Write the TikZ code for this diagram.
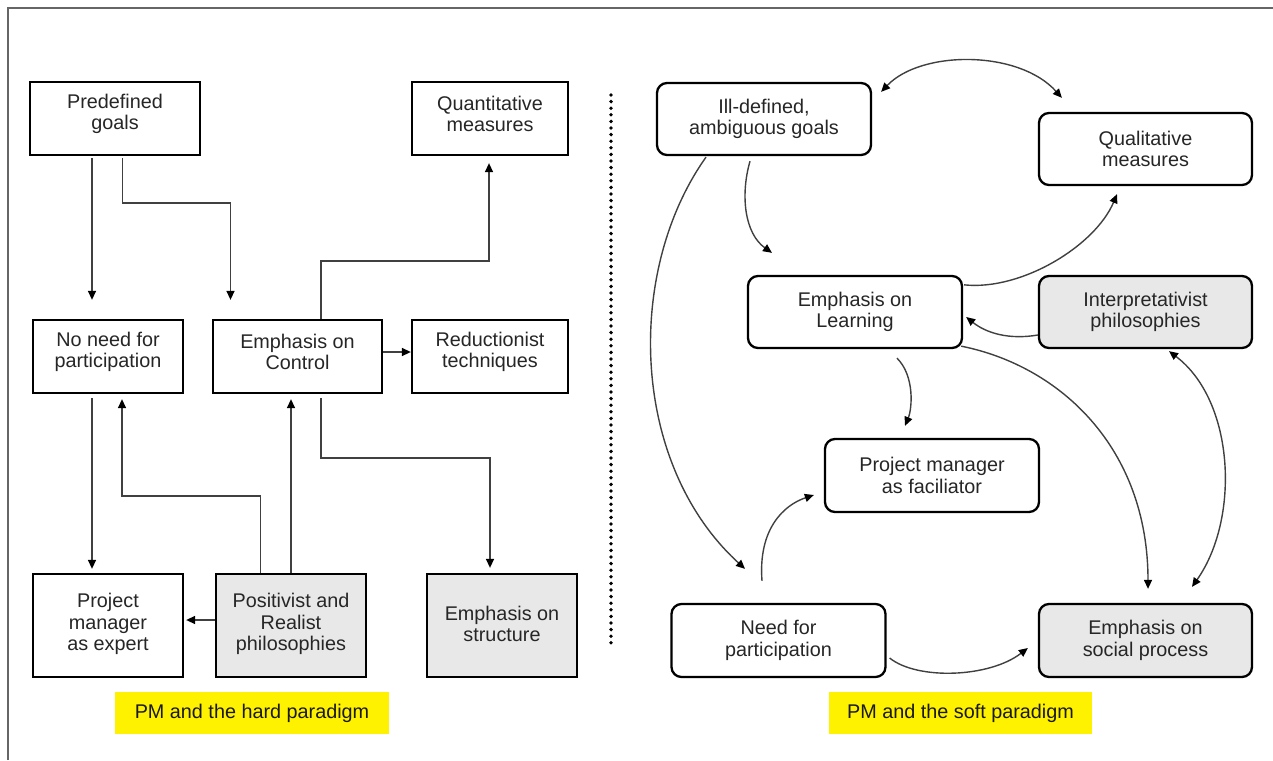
\documentclass[tikz,border=0pt]{standalone}
\usepackage{fontspec}
\setmainfont{Liberation Sans}
\usetikzlibrary{arrows.meta}
\definecolor{boxgray}{HTML}{E8E8E8}
\definecolor{linegray}{HTML}{404040}
\begin{document}
\begin{tikzpicture}[x=1pt,y=-1pt,
  sq/.style={draw=black, line width=2.3pt, inner sep=0pt, fill=white},
  rd/.style={sq, rounded corners=10pt},
  gr/.style={fill=boxgray},
  txt/.style={font=\fontsize{19.8}{21.5}\selectfont, align=center, inner sep=0pt, text=black!85},
  conn/.style={line width=1.4pt, draw=linegray, -{Triangle[length=9pt,width=8pt,color=black]}},
  dconn/.style={line width=1.4pt, draw=linegray, {Triangle[length=9pt,width=8pt,color=black]}-{Triangle[length=9pt,width=8pt,color=black]}},
  lab/.style={fill=yellow, inner sep=0pt, font=\fontsize{19.8}{21.5}\selectfont, text=black!90}]
\useasboundingbox (0,0) rectangle (1273,760);
% frame
\draw[black!60, line width=2pt] (8,760) -- (8,8) -- (1273,8);
% dotted divider
\draw[line width=3.8pt, dash pattern=on 0pt off 6.6pt, line cap=round] (611,95) -- (611,646);

% ---------- hard paradigm ----------
\node[sq, minimum width=170pt, minimum height=73pt] (pg) at (115,118.5) {};
\node[txt] (pgt) at ([yshift=4.5pt]pg.center) {Predefined\\goals};
\node[sq, minimum width=156pt, minimum height=73pt] (qm) at (490,118.5) {};
\node[txt] (qmt) at ([yshift=4.5pt]qm.center) {Quantitative\\measures};
\node[sq, minimum width=150pt, minimum height=73pt] (nn) at (108,356.5) {};
\node[txt] (nnt) at ([yshift=4.5pt]nn.center) {No need for\\participation};
\node[sq, minimum width=169pt, minimum height=73pt] (ec) at (297.5,356.5) {};
\node[txt] (ect) at ([yshift=4.5pt]ec.center) {Emphasis on\\Control};
\node[sq, minimum width=156pt, minimum height=73pt] (rt) at (490,356.5) {};
\node[txt] (rtt) at ([yshift=4.5pt]rt.center) {Reductionist\\techniques};
\node[sq, minimum width=150pt, minimum height=103pt] (pe) at (108,625.5) {};
\node[txt] (pet) at ([yshift=1.5pt]pe.center) {Project\\manager\\as expert};
\node[sq, gr, minimum width=150pt, minimum height=103pt] (pr) at (291,625.5) {};
\node[txt] (prt) at ([yshift=1.5pt]pr.center) {Positivist and\\Realist\\philosophies};
\node[sq, gr, minimum width=150pt, minimum height=103pt] (es) at (502,625.5) {};
\node[txt] (est) at ([yshift=1.5pt]es.center) {Emphasis on\\structure};
\node[lab, minimum width=274pt, minimum height=42pt] (hard) at (252,713) {PM and the hard paradigm};

\draw[conn] ([xshift=-23pt,yshift=-2pt]pg.south) -- ([xshift=-16pt,yshift=19pt]nn.north);
\draw[conn] ([xshift=7.5pt,yshift=-2pt]pg.south) -- ++(0,45) -| ([xshift=-67pt,yshift=19pt]ec.north);
\draw[conn] ([xshift=23.5pt]ec.north) -- ++(0,-58) -| ([xshift=-1pt,yshift=-7pt]qm.south);
\draw[conn] ([yshift=4.5pt]ec.east) -- ([yshift=4.5pt]rt.west);
\draw[conn] ([xshift=23.5pt,yshift=-4pt]ec.south) -- ++(0,60) -| ([xshift=-12pt,yshift=5pt]es.north);
\draw[conn, shorten >=5pt] (pr.north) -- (pr.north |- ec.south);
\draw[conn] ([xshift=-30.5pt]pr.north) -- ++(0,-77) -| ([xshift=14pt,yshift=-5pt]nn.south);
\draw[conn] ([xshift=-16pt,yshift=-4pt]nn.south) -- ([xshift=-16pt,yshift=4pt]pe.north);
\draw[conn] ([yshift=5.5pt]pr.west) -- ([xshift=2pt,yshift=5.5pt]pe.east);

% ---------- soft paradigm ----------
\node[rd, minimum width=214pt, minimum height=72pt] (ig) at (764,119) {};
\node[txt] (igt) at (ig.center) {Ill-defined,\\ambiguous goals};
\node[rd, minimum width=213pt, minimum height=72pt] (ql) at (1145.5,149) {};
\node[txt] (qlt) at (ql.center) {Qualitative\\measures};
\node[rd, minimum width=214pt, minimum height=72pt] (el) at (855,312) {};
\node[txt] (elt) at (el.center) {Emphasis on\\Learning};
\node[rd, gr, minimum width=213pt, minimum height=72pt] (ip) at (1145.5,312) {};
\node[txt] (ipt) at (ip.center) {Interpretativist\\philosophies};
\node[rd, minimum width=214pt, minimum height=73pt] (pf) at (932,475.5) {};
\node[txt] (pft) at (pf.center) {Project manager\\as faciliator};
\node[rd, minimum width=214pt, minimum height=73pt] (np) at (778.5,640.5) {};
\node[txt] (npt) at (np.center) {Need for\\participation};
\node[rd, gr, minimum width=213pt, minimum height=73pt] (sp) at (1145.5,640.5) {};
\node[txt] (spt) at (sp.center) {Emphasis on\\social process};
\node[lab, minimum width=263pt, minimum height=42pt] (soft) at (960.5,713) {PM and the soft paradigm};

\draw[dconn] ([xshift=9pt,yshift=-10pt]ig.north east) .. controls +(40,-42) and +(-43,-48) .. ([xshift=24pt,yshift=14pt]ql.north west);
\draw[conn] ([xshift=-14pt,yshift=-5pt]ig.south) .. controls +(-10,35) and +(-27,-19) .. ([xshift=-83pt,yshift=22pt]el.north);
\draw[conn] ([xshift=-58pt,yshift=-1pt]ig.south) .. controls +(-81,114) and +(-115,-105) .. ([xshift=-33.5pt,yshift=34pt]np.north);
\draw[conn] ([xshift=1pt,yshift=-10pt]el.north east) .. controls +(57,6) and +(-22,52) .. ([xshift=-28.5pt,yshift=-8pt]ql.south);
\draw[conn] ([yshift=-23pt]ip.west) .. controls +(-29,5) and +(20,16) .. ([xshift=3pt,yshift=-5pt]el.east);
\draw[conn] ([xshift=-2pt,yshift=3pt]el.south east) .. controls +(100,20) and +(0,-140) .. ([xshift=2.5pt,yshift=14pt]sp.north);
\draw[dconn] ([xshift=23.5pt,yshift=-2pt]ip.south) .. controls +(66,50) and +(48,-68) .. ([xshift=46.5pt,yshift=16pt]sp.north);
\draw[conn] ([xshift=42pt,yshift=-9pt]el.south) .. controls +(18,18) and +(7,-17) .. ([xshift=-27pt,yshift=12pt]pf.north);
\draw[conn] ([xshift=-16.5pt,yshift=22pt]np.north) .. controls +(-4,-52) and +(-30,10) .. ([xshift=-10pt,yshift=-19.5pt]pf.west);
\draw[conn] ([xshift=3pt,yshift=-17.5pt]np.east) .. controls +(27,22) and +(-39,30) .. ([xshift=-10pt,yshift=-7.5pt]sp.west);
\end{tikzpicture}
\end{document}
